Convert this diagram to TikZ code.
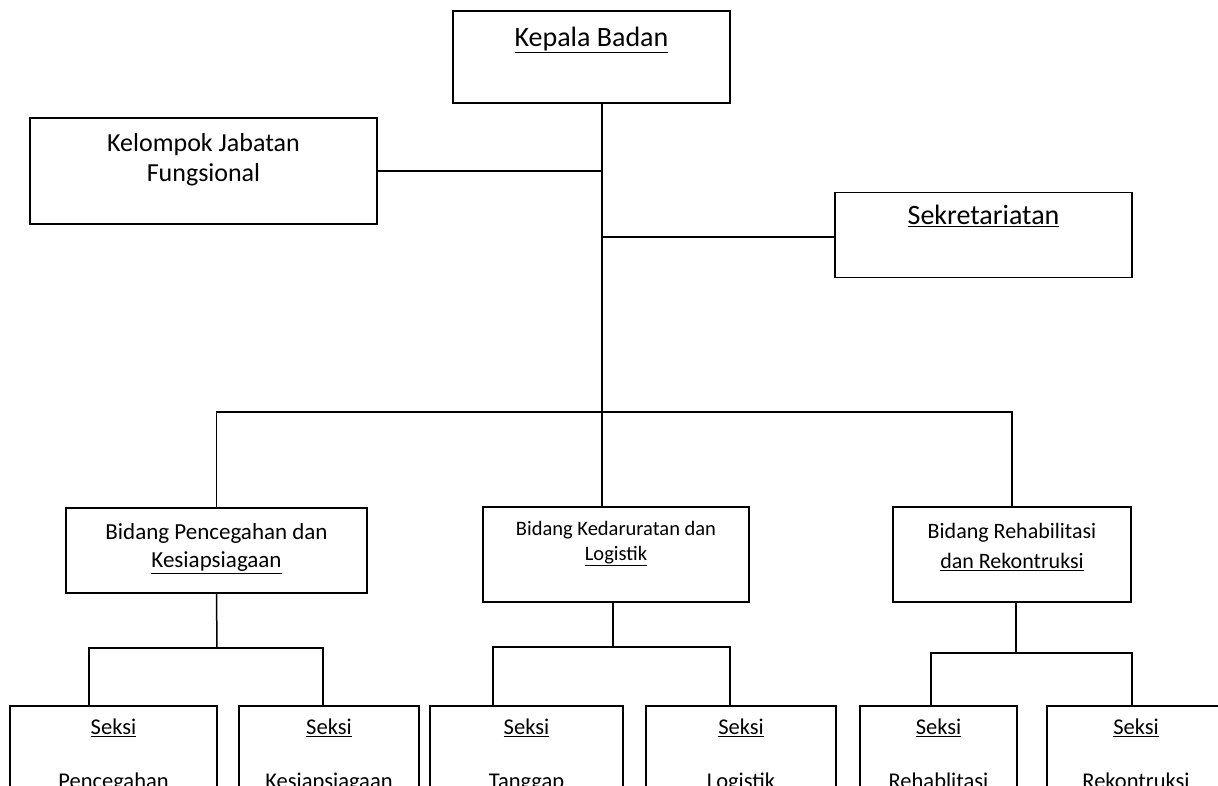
\documentclass[tikz,border=0pt]{standalone}
\usepackage{fontspec}
\setmainfont{Carlito}
\usetikzlibrary{positioning}
\newcommand{\fsz}[2]{\fontsize{#1}{#2}\selectfont}

\begin{document}
\begin{tikzpicture}[x=1pt,y=-1pt]

\tikzset{unit/.style = {shape=rectangle,draw,line width=1.5pt,inner sep=0pt}}
\tikzset{txt/.style = {inner sep=0pt,align=center}}
\tikzset{link/.style = {line width=1.5pt}}

\useasboundingbox (0,0) rectangle (1218,785);
\clip (0,0) rectangle (1218,785);

% top level
\node[unit,minimum width=277pt,minimum height=92pt] (kepala) at (591.5,57) {};
\node[unit,minimum width=347pt,minimum height=106pt] (kelompok) at (203.5,171) {};
\node[unit,minimum width=297pt,minimum height=85pt] (sekretariat) at (983.5,235) {};

\node[txt,below=36pt of kepala.north,anchor=base,font=\fsz{28}{34}] (kepala-t) {\underline{Kepala Badan}};
\node[txt,below=15.5pt of kelompok.north,font=\fsz{26}{30}] (kelompok-t) {Kelompok Jabatan\\Fungsional};
\node[txt,below=33pt of sekretariat.north,anchor=base,font=\fsz{28}{34}] (sekretariat-t) {\underline{Sekretariatan}};

% bidang
\node[unit,minimum width=301pt,minimum height=85pt] (bidang1) at (216.5,550.5) {};
\node[unit,minimum width=266pt,minimum height=95pt] (bidang2) at (616,554.5) {};
\node[unit,minimum width=238pt,minimum height=95pt] (bidang3) at (1012,554.5) {};

\node[txt,below=16pt of bidang1.north,font=\fsz{23}{28}] (bidang1-t) {Bidang Pencegahan dan\\\underline{Kesiapsiagaan}};
\node[txt,below=14.5pt of bidang2.north,font=\fsz{20.5}{25}] (bidang2-t) {Bidang Kedaruratan dan\\\underline{Logistik}};
\node[txt,below=16.5pt of bidang3.north,font=\fsz{22}{30}] (bidang3-t) {Bidang Rehabilitasi\\\underline{dan Rekontruksi}};

% seksi
\node[unit,minimum width=207pt,minimum height=120pt] (seksi1) at (113.5,766) {};
\node[unit,minimum width=180pt,minimum height=120pt] (seksi2) at (329,766) {};
\node[unit,minimum width=193pt,minimum height=120pt] (seksi3) at (526.5,766) {};
\node[unit,minimum width=190pt,minimum height=120pt] (seksi4) at (741,766) {};
\node[unit,minimum width=157pt,minimum height=120pt] (seksi5) at (938.5,766) {};
\node[unit,minimum width=178pt,minimum height=120pt] (seksi6) at (1136,766) {};

\node[txt,below=13.8pt of seksi1.north,font=\fsz{22.5}{27}] (seksi1-t) {\underline{Seksi}\\[26.5pt]Pencegahan};
\node[txt,below=13.8pt of seksi2.north,font=\fsz{22.5}{27}] (seksi2-t) {\underline{Seksi}\\[26.5pt]Kesiapsiagaan};
\node[txt,below=13.8pt of seksi3.north,font=\fsz{22.5}{27}] (seksi3-t) {\underline{Seksi}\\[26.5pt]Tanggap};
\node[txt,below=13.8pt of seksi4.north,font=\fsz{22.5}{27}] (seksi4-t) {\underline{Seksi}\\[26.5pt]Logistik};
\node[txt,below=13.8pt of seksi5.north,font=\fsz{22.5}{27}] (seksi5-t) {\underline{Seksi}\\[26.5pt]Rehablitasi};
\node[txt,below=13.8pt of seksi6.north,font=\fsz{22.5}{27}] (seksi6-t) {\underline{Seksi}\\[26.5pt]Rekontruksi};

% lines
\coordinate (trunk) at (602,412);
\draw[link] (kepala.south -| trunk) -- (trunk);
\draw[link] (kelompok.east) -- (kelompok.east -| trunk);
\draw[link] ([yshift=-2pt]sekretariat.west -| trunk) -- ([yshift=-2pt]sekretariat.west);
\draw[link] (bidang1.north) |- (trunk) -| (bidang3.north);
\draw[link] (trunk) -- (trunk |- bidang2.north);

\coordinate (j1) at (217,648);
\coordinate (d1) at (89,648);
\coordinate (d2) at (323,648);
\draw[link] (bidang1.south) -- (j1);
\draw[link] (seksi1.north -| d1) |- (d2) -- (d2 |- seksi2.north);

\coordinate (j2) at (613,647);
\coordinate (d3) at (493,647);
\coordinate (d4) at (730,647);
\draw[link] (j2 |- bidang2.south) -- (j2);
\draw[link] (seksi3.north -| d3) |- (d4) -- (d4 |- seksi4.north);

\coordinate (j3) at (1016,653);
\coordinate (d5) at (931,653);
\coordinate (d6) at (1132,653);
\draw[link] (j3 |- bidang3.south) -- (j3);
\draw[link] (seksi5.north -| d5) |- (d6) -- (d6 |- seksi6.north);

\end{tikzpicture}
\end{document}
